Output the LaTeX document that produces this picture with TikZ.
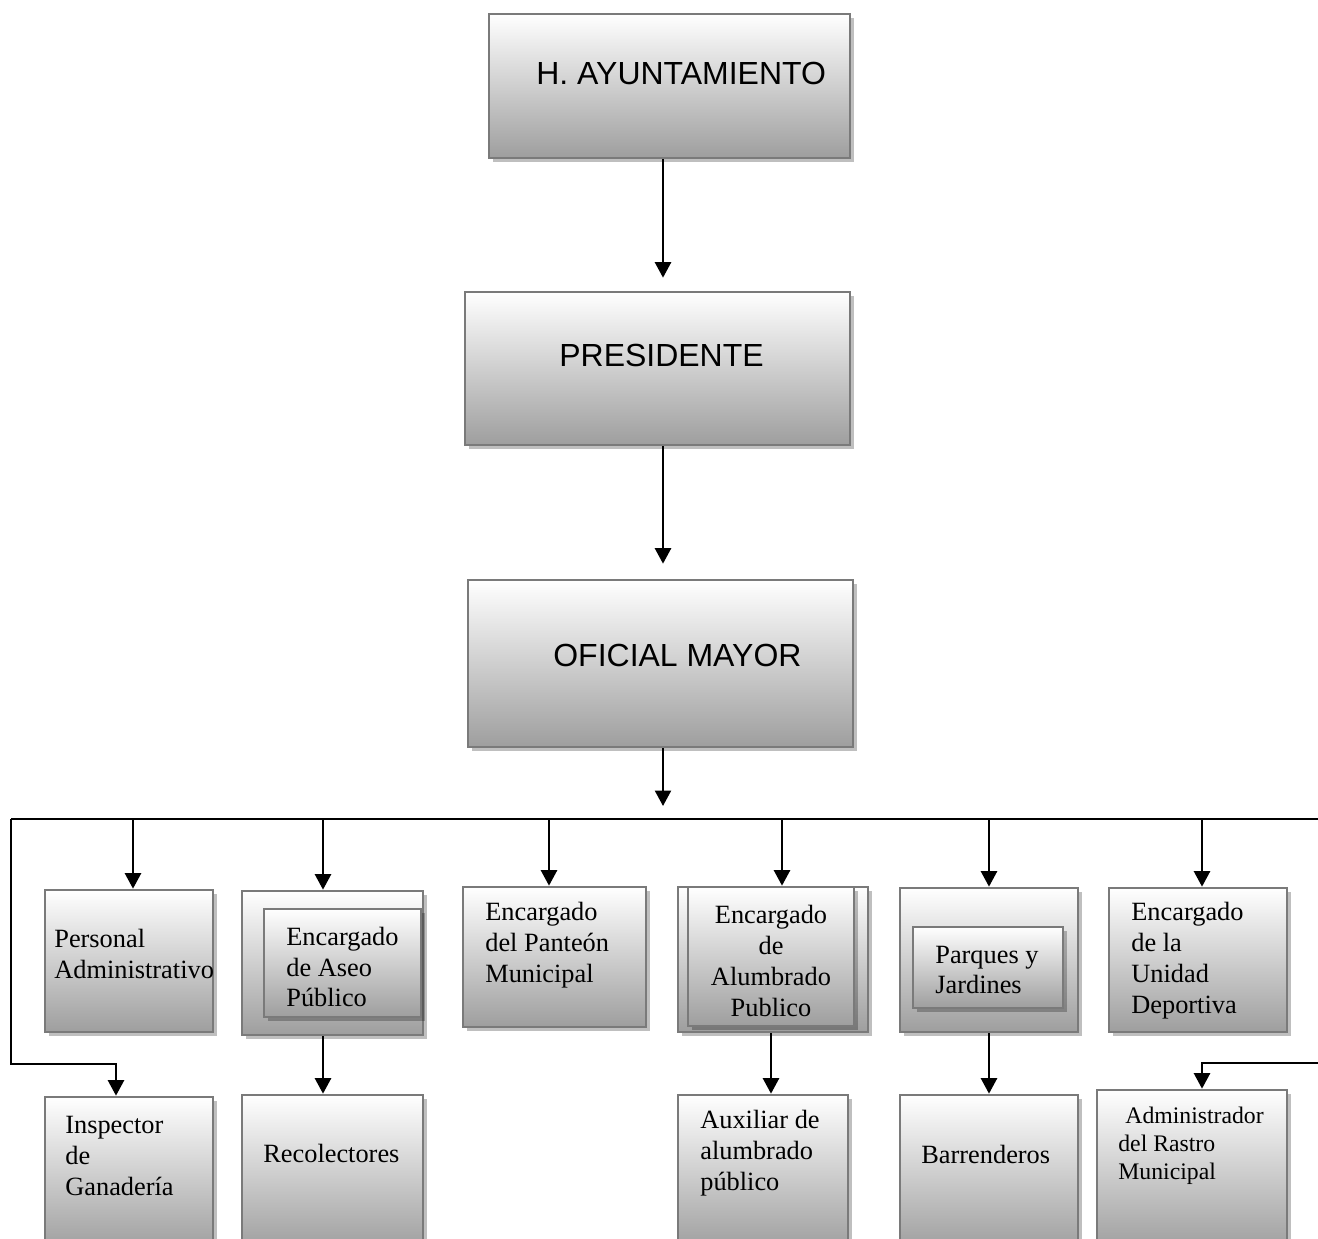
\documentclass[tikz,border=0pt]{standalone}
\usepackage{fontspec}
\setmainfont{Liberation Serif}
\newfontfamily\arialfont{Liberation Sans}
\usetikzlibrary{arrows.meta,shadows,fit}
\tikzset{
  caja/.style={draw=black!52, line width=1.5pt, shading=axis, top color=white, bottom color=black!38, inner sep=0pt,
    drop shadow={shadow xshift=0.08cm, shadow yshift=-0.08cm, fill=black, opacity=0.25}},
  titulo/.style={font=\arialfont\fontsize{18.2}{22}\selectfont, inner sep=0pt, anchor=west},
  puesto/.style={font=\fontsize{15}{17.6}\selectfont, inner sep=0pt, anchor=west, align=left},
  linea/.style={line width=1.4pt},
  flecha/.style={line width=1.4pt, -{Triangle[width=0.32cm,length=0.31cm]}},
}
\begin{document}
\begin{tikzpicture}[x=0.02cm,y=-0.02cm]
\useasboundingbox (0,0) rectangle (1318,1239);

% cajas de arriba
\node[caja, fit={(489,14) (850,158)}] (ayto) {};
\node[caja, fit={(465,292) (850,445)}] (pres) {};
\node[caja, fit={(468,580) (853,747)}] (ofi) {};

\node[titulo] (ayto-t) at (536,74) {H. AYUNTAMIENTO};
\node[titulo] (pres-t) at (559,355) {PRESIDENTE};
\node[titulo] (ofi-t) at (553,655) {OFICIAL MAYOR};

% primera fila
\node[caja, fit={(45,890) (213,1032)}] (pers) {};
\node[caja, fit={(242,891) (423,1035)}] (aseo) {};
\node[caja, fit={(264,909) (421,1017)}] (aseo-in) {};
\node[caja, fit={(463,887) (646,1027)}] (pant) {};
\node[caja, fit={(678,887) (868,1032)}] (alum) {};
\node[caja, fit={(688,887) (854,1026)}] (alum-in) {};
\node[caja, fit={(900,888) (1078,1032)}] (parq) {};
\node[caja, fit={(913,927) (1063,1008)}] (parq-in) {};
\node[caja, fit={(1109,888) (1287,1032)}] (unid) {};

\node[puesto] (pers-t) at (54,954) {Personal\\Administrativo};
\node[puesto] (aseo-t) at (286,967) {Encargado\\de Aseo\\P\'ublico};
\node[puesto] (pant-t) at (485,945) {Encargado\\del Pante\'on\\Municipal};
\node[puesto, anchor=center, align=center] (alum-t) at (771,961) {Encargado\\de\\Alumbrado\\Publico};
\node[puesto] (parq-t) at (935,970) {Parques y\\Jardines};
\node[puesto] (unid-t) at (1131,961) {Encargado\\de la\\Unidad\\Deportiva};

% segunda fila
\node[caja, fit={(45,1097) (213,1250)}] (insp) {};
\node[caja, fit={(242,1095) (423,1250)}] (reco) {};
\node[caja, fit={(678,1095) (848,1250)}] (aux) {};
\node[caja, fit={(900,1095) (1078,1250)}] (barr) {};
\node[caja, fit={(1097,1090) (1287,1250)}] (admi) {};

\node[puesto] (insp-t) at (65,1156) {Inspector\\de\\Ganader\'ia};
\node[puesto] (reco-t) at (263,1153) {Recolectores};
\node[puesto] (aux-t) at (700,1153) {Auxiliar de\\alumbrado\\p\'ublico};
\node[puesto] (barr-t) at (921,1154) {Barrenderos};
\node[puesto, font=\fontsize{13.5}{15.9}\selectfont] (admi-t) at (1118,1146) {\hspace*{4pt}Administrador\\del Rastro\\Municipal};

% lineas
\coordinate (eje) at (663,0);
\coordinate (bus-l) at (11,819);
\coordinate (bus-r) at (1318,819);
\coordinate (d1) at (133,819);
\coordinate (d2) at (323,819);
\coordinate (d3) at (549,819);
\coordinate (d4) at (782,819);
\coordinate (d5) at (989,819);
\coordinate (d6) at (1202,819);
\coordinate (e4) at (771,0);
\coordinate (gan) at (116,1064); % hacia inspector
\coordinate (ras) at (1202,1063); % hacia rastro
\coordinate (ras-r) at (1318,1063);

\draw[flecha, shorten >=0.26cm] (eje |- ayto.south) -- (eje |- pres.north);
\draw[flecha, shorten >=0.3cm] (eje |- pres.south) -- (eje |- ofi.north);
\draw[flecha, shorten >=0.26cm] (eje |- ofi.south) -- (eje |- bus-l);

\draw[linea] (bus-l) -- (bus-r);
\foreach \d/\n in {d1/pers,d2/aseo,d3/pant,d4/alum,d5/parq,d6/unid}
  \draw[flecha] (\d) -- (\d |- \n.north);

\draw[flecha] (d2 |- aseo.south) -- (d2 |- reco.north);
\draw[flecha] (e4 |- alum.south) -- (e4 |- aux.north);
\draw[flecha] (d5 |- parq.south) -- (d5 |- barr.north);

\draw[flecha] (bus-l) |- (gan) -- (gan |- insp.north);
\draw[flecha] (ras-r) -- (ras) -- (ras |- admi.north);

\end{tikzpicture}
\end{document}
